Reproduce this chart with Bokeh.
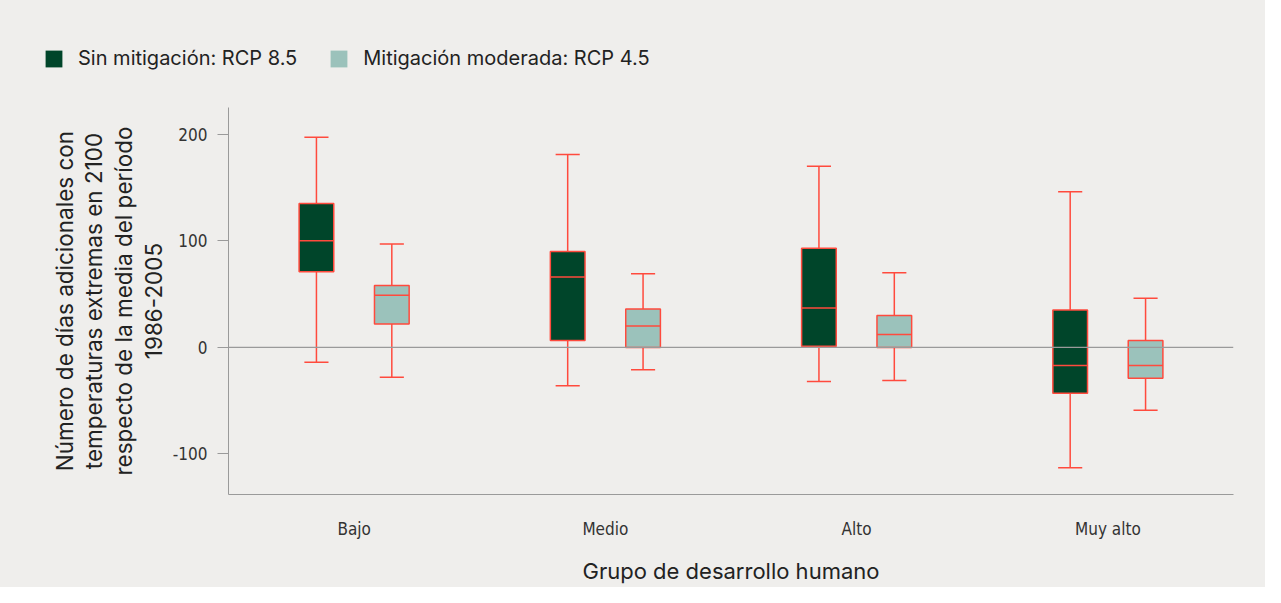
from bokeh.plotting import figure
from bokeh.layouts import column
from bokeh.models import ColumnDataSource, Range1d, FactorRange, Legend, LegendItem, Span
from bokeh.transform import dodge
from bokeh.embed import file_html
from bokeh.resources import INLINE

groups = ["Bajo", "Medio", "Alto", "Muy alto"]

# RCP 8.5 (sin mitigación)
hi_low = [-14, -36, -32, -113]
hi_q1 = [71, 6.5, 1, -43]
hi_med = [100, 66, 37, -17]
hi_q3 = [135, 90, 93, 35]
hi_up = [197, 181, 170, 146]

# RCP 4.5 (mitigación moderada)
lo_low = [-28, -21, -31, -59]
lo_q1 = [22, 0, 0, -29]
lo_med = [49, 20, 12, -17]
lo_q3 = [58, 36, 30, 6.5]
lo_up = [97, 69, 70, 46]

series_labels = ["Sin mitigación: RCP 8.5", "Mitigación moderada: RCP 4.5"]
y_ticks = [-100, 0, 100, 200]

DARK = "#00452a"
LIGHT = "#9bc2bb"
RED = "#ff4a3d"
BG = "#efeeec"
GRAY = "#9a9a9a"
FONT = "Inter"
COND = "'Liberation Sans Narrow', 'DejaVu Sans Condensed', sans-serif"

W = 1265
TOP_H = 100

# ---- legend strip ----
lg = figure(width=W, height=TOP_H, x_range=Range1d(0, 1), y_range=Range1d(0, 1),
            output_backend="svg", toolbar_location=None,
            background_fill_color=BG, border_fill_color=BG, min_border=0)
lg.frame_align = False
lg.axis.visible = False
lg.grid.visible = False
lg.outline_line_color = None
# dummy renderers (kept outside the visible range) that only feed the legend swatches
r1 = lg.vbar(x=[-5], top=[-5], width=0.1, fill_color=DARK, line_alpha=0)
r2 = lg.vbar(x=[-5], top=[-5], width=0.1, fill_color=LIGHT, line_alpha=0)
legend = Legend(items=[LegendItem(label=series_labels[0], renderers=[r1]),
                       LegendItem(label=series_labels[1], renderers=[r2])],
                orientation="horizontal", location=(43, 30),
                glyph_width=21, glyph_height=21, label_standoff=14, spacing=31,
                padding=0, margin=0, background_fill_alpha=0, border_line_alpha=0,
                label_text_font=FONT, label_text_font_size="20px", label_text_color="#222222",
                label_height=21)
lg.add_layout(legend, "center")

# ---- main chart ----
p = figure(width=W, height=587 - TOP_H, x_range=FactorRange(*groups), y_range=Range1d(-138, 225),
           output_backend="svg", toolbar_location=None,
           background_fill_color=BG, border_fill_color=BG,
           min_border_left=228, min_border_right=32, min_border_top=107 - TOP_H, min_border_bottom=93)
p.frame_align = False
p.outline_line_color = None
p.xgrid.grid_line_color = None
p.ygrid.grid_line_color = None

offset = 0.15
bw = 0.138
cw = 0.096

def draw(low, q1, med, q3, up, off, color):
    src = ColumnDataSource(dict(g=groups, low=low, q1=q1, med=med, q3=q3, up=up))
    xc = dodge("g", off, range=p.x_range)
    p.segment(x0=xc, y0="low", x1=xc, y1="q1", source=src, line_color=RED, line_width=1.5)
    p.segment(x0=xc, y0="q3", x1=xc, y1="up", source=src, line_color=RED, line_width=1.5)
    p.segment(x0=dodge("g", off - cw / 2, range=p.x_range), y0="low",
              x1=dodge("g", off + cw / 2, range=p.x_range), y1="low",
              source=src, line_color=RED, line_width=1.5)
    p.segment(x0=dodge("g", off - cw / 2, range=p.x_range), y0="up",
              x1=dodge("g", off + cw / 2, range=p.x_range), y1="up",
              source=src, line_color=RED, line_width=1.5)
    p.vbar(x=xc, width=bw, bottom="q1", top="q3", source=src,
           fill_color=color, line_color=RED, line_width=1.5)
    p.segment(x0=dodge("g", off - bw / 2, range=p.x_range), y0="med",
              x1=dodge("g", off + bw / 2, range=p.x_range), y1="med",
              source=src, line_color=RED, line_width=1.5)

zero = Span(location=0, dimension="width", line_color=GRAY, line_width=1.2)
p.add_layout(zero)

draw(hi_low, hi_q1, hi_med, hi_q3, hi_up, -offset, DARK)
draw(lo_low, lo_q1, lo_med, lo_q3, lo_up, offset, LIGHT)

# axes
p.yaxis.ticker = y_ticks
p.yaxis.major_label_overrides = {t: str(t) for t in y_ticks}
p.yaxis.axis_line_color = GRAY
p.yaxis.major_tick_line_color = GRAY
p.yaxis.major_tick_out = 11
p.yaxis.major_tick_in = 0
p.yaxis.minor_tick_line_color = None
p.yaxis.major_label_standoff = 10
p.yaxis.major_label_text_font = COND
p.yaxis.major_label_text_font_size = "17px"
p.yaxis.major_label_text_color = "#333333"
p.yaxis.axis_label = ("Número de días adicionales con\ntemperaturas extremas en 2100\n"
                      "respecto de la media del período\n1986-2005")
p.yaxis.axis_label_text_font = FONT
p.yaxis.axis_label_text_font_size = "22.5px"
p.yaxis.axis_label_text_font_style = "normal"
p.yaxis.axis_label_text_color = "#222222"
p.yaxis.axis_label_text_line_height = 1.1
p.yaxis.axis_label_standoff = 3

p.xaxis.axis_line_color = GRAY
p.xaxis.major_tick_line_color = None
p.xaxis.minor_tick_line_color = None
p.xaxis.major_label_standoff = 18
p.xaxis.major_label_text_font = COND
p.xaxis.major_label_text_font_size = "17px"
p.xaxis.major_label_text_color = "#333333"
p.xaxis.axis_label = "Grupo de desarrollo humano"
p.xaxis.axis_label_text_font = FONT
p.xaxis.axis_label_text_font_size = "22px"
p.xaxis.axis_label_text_font_style = "normal"
p.xaxis.axis_label_text_color = "#222222"
p.xaxis.axis_label_standoff = 16

layout = column(lg, p, spacing=0, styles={"background-color": BG})
open("out.html", "w").write(file_html(layout, INLINE))
